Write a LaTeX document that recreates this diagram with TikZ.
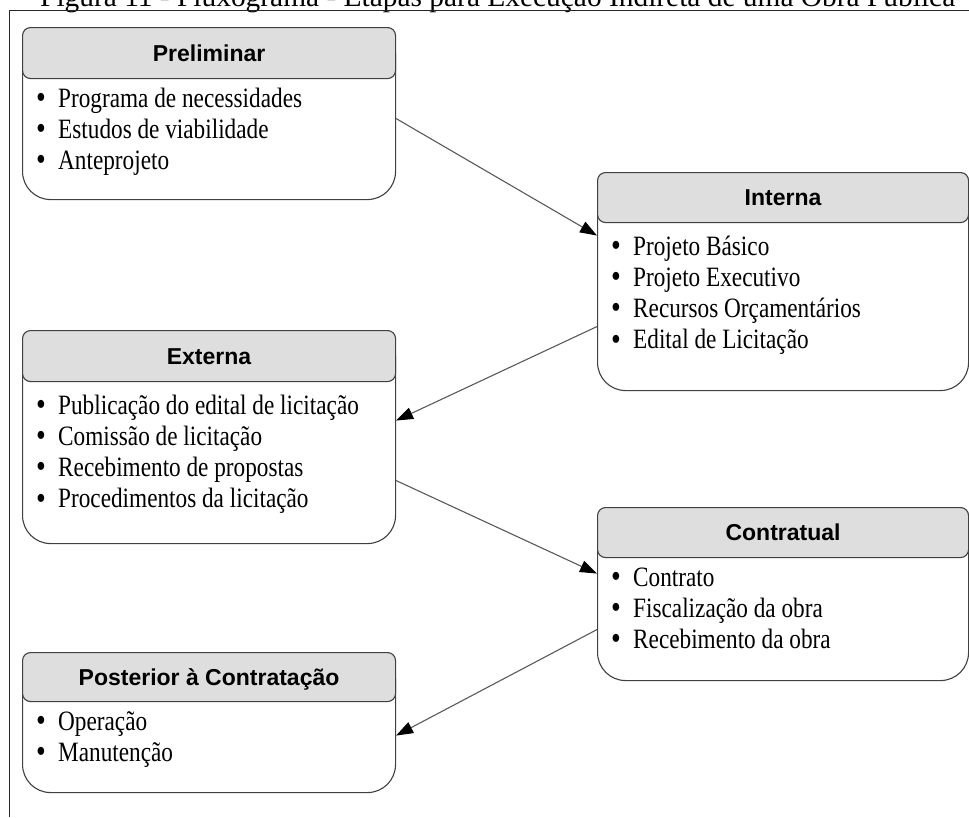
\documentclass[tikz,border=0pt]{standalone}
\usepackage{graphicx}
\usepackage{fontspec}
\setmainfont{Liberation Serif}
\newfontfamily\bodyfont[FakeStretch=0.83]{Liberation Serif}
\newfontfamily\headfont{Liberation Sans}
\usetikzlibrary{arrows.meta}

\tikzset{
  frameline/.style={draw=black!85, line width=1pt},
  stagebody/.style={draw=black!75, line width=1.1pt, rounded corners=28pt, fill=white, inner sep=0pt},
  stagehead/.style={draw=black!75, line width=1.1pt, rounded corners=8pt, fill=black!13, inner sep=0pt,
    font=\headfont\bfseries\fontsize{23}{23}\selectfont, text height=16.5pt, text depth=0pt},
  stageitem/.style={inner sep=0pt, font=\bodyfont\fontsize{28}{30}\selectfont},
  flow/.style={draw=black!65, line width=1.1pt, -{Triangle[length=17pt,width=12pt,color=black]}},
}

% #1 name, #2 left, #3 top, #4 width, #5 header height, #6 total height,
% #7 title, #8 items, #9 baseline of the first item
\newcommand\stagebox[9]{%
  \node[stagebody, anchor=north west, minimum width=#4pt, minimum height=#6pt] (#1) at (#2,#3) {};
  \node[stagehead, anchor=north west, minimum width=#4pt, minimum height=#5pt] (#1-head) at (#2,#3) {#7};
  \foreach \t [count=\i from 0] in {#8}
    \node[stageitem, anchor=base west] (#1-\i) at (#2+14, #9+31.2*\i)
      {\makebox[22pt][l]{\raisebox{-1.5pt}{\scalebox{1.2}{\textbullet}}}\t};
}

\begin{document}
\begin{tikzpicture}[x=1pt, y=-1pt]
  \useasboundingbox (0,0) rectangle (969,817);

  % caption and frame
  \node[anchor=base west, inner sep=0pt] (title) at (40,6)
    {\resizebox{915pt}{!}{\rmfamily\fontsize{28}{30}\selectfont Figura 11 - Fluxograma - Etapas para Execução Indireta de uma Obra Pública}};
  \draw[frameline] (9,817) -- (9,10.5) -- (969,10.5);

  % stages
  \stagebox{pre}{22}{27}{373}{51}{172}{Preliminar}
    {Programa de necessidades, Estudos de viabilidade, Anteprojeto}{107}
  \stagebox{int}{597}{172}{371}{50}{218}{Interna}
    {Projeto Básico, Projeto Executivo, Recursos Orçamentários, Edital de Licitação}{255}
  \stagebox{ext}{22}{330}{373}{51}{213}{Externa}
    {Publicação do edital de licitação, Comissão de licitação, Recebimento de propostas, Procedimentos da licitação}{414}
  \stagebox{con}{597}{507}{371}{50}{173}{Contratual}
    {Contrato, Fiscalização da obra, Recebimento da obra}{586}
  \stagebox{post}{22}{652}{373}{49}{140}{Posterior à Contratação}
    {Operação, Manutenção}{730}

  % flow between stages
  \draw[flow] ([yshift=-5pt]pre.east) -- ([yshift=46pt]int.west);
  \draw[flow] ([yshift=-45pt]int.west) -- ([yshift=16.5pt]ext.east);
  \draw[flow] ([yshift=-43.5pt]ext.east) -- ([yshift=20.5pt]con.west);
  \draw[flow] ([yshift=-35.5pt]con.west) -- ([yshift=-13pt]post.east);
\end{tikzpicture}
\end{document}
